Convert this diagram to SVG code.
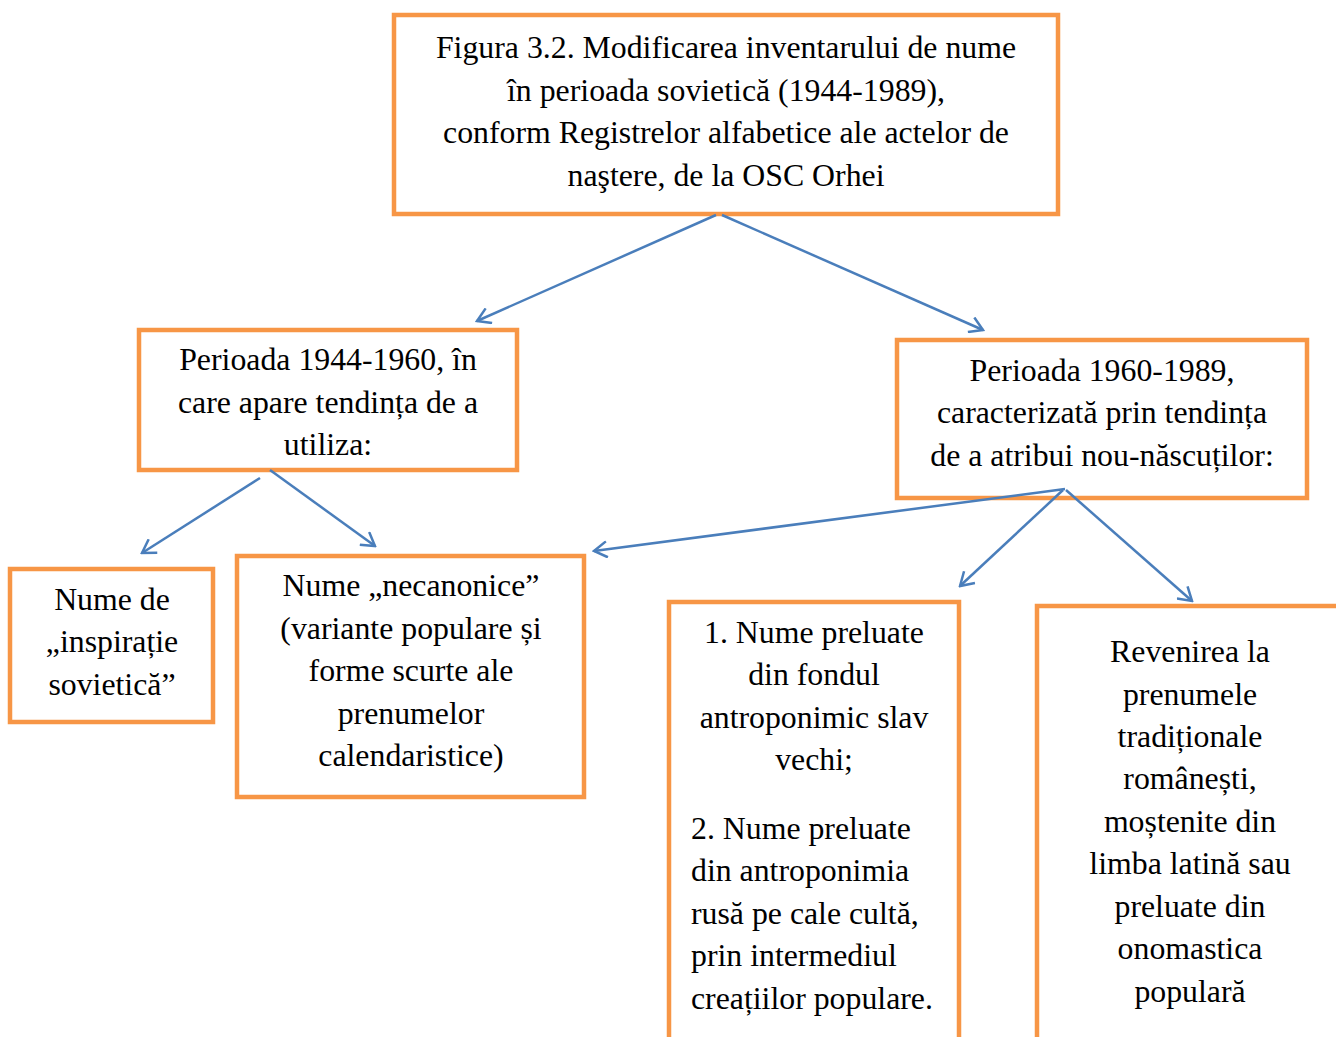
<svg xmlns="http://www.w3.org/2000/svg" width="1336" height="1037" viewBox="0 0 1336 1037">
<style>
.box{fill:#fff;stroke:#F79646;stroke-width:4.5}
.t{font-family:"Liberation Serif","Times New Roman",serif;font-size:31.8px;fill:#000}
.c{text-anchor:middle}
.con line{stroke:#4A7EBB;stroke-width:2.5;marker-end:url(#ah)}
</style>
<defs>
<marker id="ah" markerUnits="userSpaceOnUse" viewBox="-14 -9 16 18" refX="0" refY="0" markerWidth="16" markerHeight="18" orient="auto">
<polyline points="-13,-8 0,0 -13,8" fill="none" stroke="#4A7EBB" stroke-width="2.5"/>
</marker>
</defs>
<rect width="1336" height="1037" fill="#fff"/>
<g id="n-top">
<rect class="box" x="394" y="15" width="664" height="199"/>
<text class="t c" x="726" y="58">Figura 3.2. Modificarea inventarului de nume</text>
<text class="t c" x="726" y="101">în perioada sovietică (1944-1989),</text>
<text class="t c" x="726" y="143">conform Registrelor alfabetice ale actelor de</text>
<text class="t c" x="726" y="186">naştere, de la OSC Orhei</text>
</g>
<g id="n-p1">
<rect class="box" x="139" y="330" width="378" height="140"/>
<text class="t c" x="328" y="370">Perioada 1944-1960, în</text>
<text class="t c" x="328" y="413">care apare tendința de a</text>
<text class="t c" x="328" y="455">utiliza:</text>
</g>
<g id="n-p2">
<rect class="box" x="897" y="340" width="410" height="158"/>
<text class="t c" x="1102" y="381">Perioada 1960-1989,</text>
<text class="t c" x="1102" y="423">caracterizată prin tendința</text>
<text class="t c" x="1102" y="466">de a atribui nou-născuților:</text>
</g>
<g id="n-sov">
<rect class="box" x="10" y="569" width="203" height="153"/>
<text class="t c" x="112" y="610">Nume de</text>
<text class="t c" x="112" y="652">„inspirație</text>
<text class="t c" x="112" y="695">sovietică”</text>
</g>
<g id="n-necan">
<rect class="box" x="237" y="556" width="347" height="241"/>
<text class="t c" x="411" y="596">Nume „necanonice”</text>
<text class="t c" x="411" y="639">(variante populare și</text>
<text class="t c" x="411" y="681">forme scurte ale</text>
<text class="t c" x="411" y="724">prenumelor</text>
<text class="t c" x="411" y="766">calendaristice)</text>
</g>
<g id="n-slav">
<rect class="box" x="669" y="602" width="290" height="460"/>
<text class="t c" x="814" y="643">1. Nume preluate</text>
<text class="t c" x="814" y="685">din fondul</text>
<text class="t c" x="814" y="728">antroponimic slav</text>
<text class="t c" x="814" y="770">vechi;</text>
<text class="t" x="691" y="839">2. Nume preluate</text>
<text class="t" x="691" y="881">din antroponimia</text>
<text class="t" x="691" y="924">rusă pe cale cultă,</text>
<text class="t" x="691" y="966">prin intermediul</text>
<text class="t" x="691" y="1009">creațiilor populare.</text>
</g>
<g id="n-trad">
<rect class="box" x="1037" y="606" width="320" height="460"/>
<text class="t c" x="1190" y="662">Revenirea la</text>
<text class="t c" x="1190" y="705">prenumele</text>
<text class="t c" x="1190" y="747">tradiționale</text>
<text class="t c" x="1190" y="789">românești,</text>
<text class="t c" x="1190" y="832">moștenite din</text>
<text class="t c" x="1190" y="874">limba latină sau</text>
<text class="t c" x="1190" y="917">preluate din</text>
<text class="t c" x="1190" y="959">onomastica</text>
<text class="t c" x="1190" y="1002">populară</text>
</g>
<g id="connectors" class="con">
<line x1="716" y1="215" x2="477" y2="321"/>
<line x1="722" y1="215" x2="983" y2="330"/>
<line x1="260" y1="478" x2="142" y2="553"/>
<line x1="270" y1="470" x2="375" y2="546"/>
<line x1="1065" y1="489" x2="594" y2="551"/>
<line x1="1063" y1="490" x2="960" y2="586"/>
<line x1="1066" y1="490" x2="1192" y2="601"/>
</g>
</svg>
